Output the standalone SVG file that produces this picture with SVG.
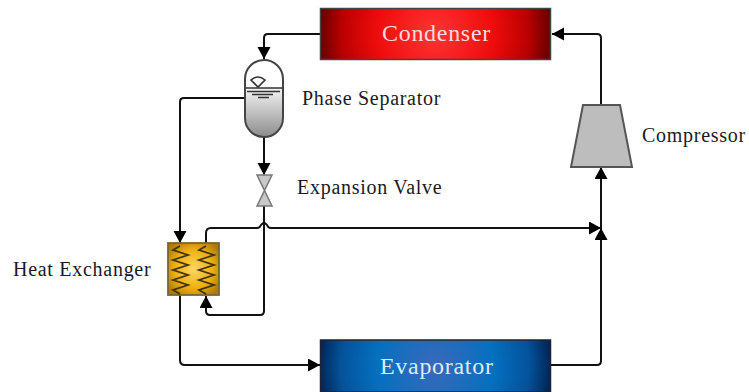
<svg xmlns="http://www.w3.org/2000/svg" width="749" height="392" viewBox="0 0 749 392">
<style>
text{font-family:"Liberation Serif","Times New Roman",serif;fill:#1a1a24}
.lbl{font-size:20px;letter-spacing:.72px}
.big{font-size:24px;letter-spacing:.7px}
.c{fill:none;stroke:#111;stroke-width:2}
.coil{fill:none;stroke:#42330c;stroke-width:1.800}
</style>
<defs>
<radialGradient id="red" gradientUnits="userSpaceOnUse" cx="435" cy="34" r="118"><stop offset="0" stop-color="#ff3434"/><stop offset=".5" stop-color="#ee0c0c"/><stop offset=".8" stop-color="#b80000"/><stop offset="1" stop-color="#5e0000"/></radialGradient>
<radialGradient id="blue" gradientUnits="userSpaceOnUse" cx="435" cy="366" r="118"><stop offset="0" stop-color="#3c68ba"/><stop offset=".5" stop-color="#0470c0"/><stop offset=".8" stop-color="#04529a"/><stop offset="1" stop-color="#00214f"/></radialGradient>
<radialGradient id="gold" cx=".5" cy=".5" r=".62"><stop offset="0" stop-color="#fcd860"/><stop offset=".6" stop-color="#eeb010"/><stop offset="1" stop-color="#a87a06"/></radialGradient>
<linearGradient id="liq" x1="0" y1="0" x2="0" y2="1"><stop offset="0" stop-color="#f4f4f4"/><stop offset="1" stop-color="#8c8c8c"/></linearGradient>
<marker id="a" markerUnits="userSpaceOnUse" markerWidth="14" markerHeight="14" refX="12" refY="6.500" orient="auto"><path d="M0 0L12 6.500L0 13Z" fill="#000"/></marker>
</defs>
<g id="connectors">
<path class="c" d="M320 34H268Q264 34 264 38V59" marker-end="url(#a)"/>
<path class="c" d="M245 98H184Q180 98 180 102V243" marker-end="url(#a)"/>
<path class="c" d="M264 136V175" marker-end="url(#a)"/>
<path class="c" d="M264 206V311Q264 315 260 315H210Q206 315 206 311V296" marker-end="url(#a)"/>
<path class="c" d="M206 243V233Q206 228 211 228H257Q260 228 261 225Q264 221 267 225Q268 228 271 228H601" marker-end="url(#a)"/>
<path class="c" d="M180 295V360Q180 365 185 365H320" marker-end="url(#a)"/>
<path class="c" d="M551 365H597Q601 365 601 361V228" marker-end="url(#a)"/>
<path class="c" d="M601 228V167" marker-end="url(#a)"/>
<path class="c" d="M601 105V38Q601 34 597 34H552" marker-end="url(#a)"/>
</g>
<g id="condenser"><rect x="320.500" y="8.500" width="230" height="51" fill="url(#red)" stroke="#444" stroke-width="1.500"/><text class="big" x="382" y="41" style="fill:#f6dcdc">Condenser</text></g>
<g id="evaporator"><rect x="320.500" y="340" width="230" height="52" fill="url(#blue)" stroke="#223" stroke-width="1.500"/><text class="big" x="380" y="374" style="fill:#d8eef6">Evaporator</text></g>
<g id="phase-separator">
<rect x="245" y="60" width="38" height="77" rx="19" fill="#fff"/>
<path d="M245 88H283V118A19 19 0 0 1 245 118Z" fill="url(#liq)"/>
<rect x="245" y="60" width="38" height="77" rx="19" fill="none" stroke="#444" stroke-width="2"/>
<path d="M246 88H283" stroke="#333" stroke-width="1.600" fill="none"/>
<path d="M247 91.500H280M252 94.500H273M258 97.500H269" stroke="#333" stroke-width="1.400" fill="none"/>
<path d="M251 80Q258 74 265 80L258 87Z" fill="#fff" stroke="#333" stroke-width="1.600"/>
<text class="lbl" x="302" y="104.500">Phase Separator</text>
</g>
<g id="expansion-valve"><path d="M257 175H272L257 206H272Z" fill="#c8c8c8" stroke="#777" stroke-width="1.500"/><text class="lbl" x="297" y="193.500">Expansion Valve</text></g>
<g id="heat-exchanger">
<rect x="168" y="243" width="51" height="52" fill="url(#gold)" stroke="#77682c" stroke-width="1.800"/>
<path class="coil" d="M180 246L173 250L188 255L173 260L188 265L173 270L188 275L173 280L188 285L173 290L180 294"/>
<path class="coil" d="M206 246L199 250L214 255L199 260L214 265L199 270L214 275L199 280L214 285L199 290L206 294"/>
<text class="lbl" x="13" y="275.500">Heat Exchanger</text>
</g>
<g id="compressor"><path d="M583 105H620L632 167H571Z" fill="#bdbdbd" stroke="#555" stroke-width="2"/><text class="lbl" x="642" y="141.500">Compressor</text></g>
</svg>
